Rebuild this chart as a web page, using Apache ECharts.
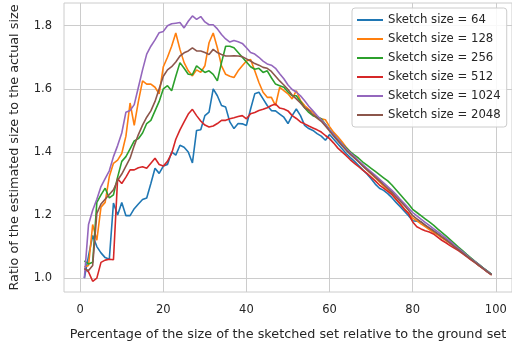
<!DOCTYPE html>
<html>
<head>
<meta charset="utf-8">
<script src="https://cdn.jsdelivr.net/npm/echarts@6/dist/echarts.min.js"></script>
<style>html,body{margin:0;padding:0;background:#fff}#c{width:512px;height:346px}</style>
</head>
<body>
<div id="c"></div>
<script>
const xValues = Array.from({length: 99}, (_, i) => i + 1);
const seriesNames = ["Sketch size = 64", "Sketch size = 128", "Sketch size = 256", "Sketch size = 512", "Sketch size = 1024", "Sketch size = 2048"];
const xTicks = [0, 20, 40, 60, 80, 100];
const yTicks = [1.0, 1.2, 1.4, 1.6, 1.8];

const size64 = [1.00,1.07,1.135,1.10,1.08,1.065,1.06,1.238,1.20,1.24,1.198,1.198,1.22,1.235,1.249,1.254,1.30,1.348,1.332,1.355,
1.36,1.40,1.39,1.421,1.415,1.40,1.365,1.468,1.47,1.515,1.526,1.60,1.578,1.547,1.542,1.495,1.474,1.49,1.489,1.484,
1.536,1.584,1.589,1.568,1.547,1.531,1.53,1.52,1.51,1.49,1.515,1.536,1.515,1.484,1.474,1.468,1.458,1.45,1.437,1.455,
1.44,1.425,1.41,1.395,1.382,1.37,1.357,1.343,1.33,1.315,1.298,1.285,1.278,1.268,1.255,1.24,1.226,1.212,1.198,1.182,
1.18,1.178,1.168,1.158,1.15,1.14,1.13,1.121,1.112,1.102,1.093,1.083,1.073,1.062,1.052,1.042,1.032,1.022,1.012];

const size128 = [1.035,1.04,1.17,1.12,1.225,1.24,1.322,1.364,1.374,1.395,1.45,1.555,1.484,1.56,1.625,1.615,1.615,1.605,1.584,1.67,
1.70,1.735,1.777,1.725,1.683,1.657,1.641,1.66,1.652,1.673,1.746,1.777,1.73,1.673,1.646,1.64,1.636,1.657,1.673,1.688,
1.693,1.657,1.62,1.589,1.573,1.573,1.547,1.605,1.594,1.584,1.568,1.594,1.563,1.547,1.535,1.526,1.51,1.505,1.502,1.48,
1.462,1.448,1.432,1.415,1.40,1.385,1.37,1.356,1.343,1.33,1.318,1.305,1.292,1.28,1.265,1.25,1.235,1.22,1.205,1.19,
1.182,1.172,1.163,1.154,1.145,1.137,1.128,1.119,1.11,1.10,1.09,1.08,1.07,1.06,1.05,1.04,1.03,1.02,1.01];

const size256 = [1.055,1.045,1.05,1.24,1.264,1.285,1.254,1.264,1.32,1.37,1.385,1.41,1.435,1.442,1.46,1.49,1.50,1.53,1.56,1.60,
1.61,1.594,1.64,1.683,1.665,1.646,1.645,1.673,1.662,1.652,1.657,1.646,1.625,1.683,1.735,1.735,1.73,1.715,1.70,1.685,
1.67,1.662,1.665,1.652,1.657,1.635,1.615,1.61,1.605,1.59,1.578,1.578,1.56,1.54,1.525,1.515,1.51,1.505,1.488,1.47,
1.455,1.44,1.425,1.413,1.40,1.39,1.38,1.368,1.358,1.348,1.338,1.328,1.318,1.308,1.295,1.28,1.265,1.25,1.235,1.218,
1.208,1.198,1.188,1.178,1.168,1.156,1.145,1.134,1.122,1.11,1.098,1.087,1.075,1.064,1.053,1.043,1.032,1.022,1.012];

const size512 = [1.03,1.02,0.99,1.0,1.05,1.057,1.06,1.058,1.315,1.30,1.32,1.343,1.343,1.35,1.353,1.348,1.364,1.38,1.36,1.355,
1.37,1.395,1.44,1.47,1.495,1.52,1.535,1.515,1.498,1.485,1.479,1.482,1.49,1.50,1.50,1.505,1.508,1.512,1.515,1.505,
1.521,1.525,1.531,1.535,1.54,1.547,1.552,1.539,1.536,1.53,1.515,1.506,1.495,1.489,1.482,1.476,1.47,1.463,1.452,1.442,
1.428,1.412,1.40,1.388,1.375,1.364,1.353,1.342,1.332,1.32,1.308,1.295,1.285,1.275,1.265,1.25,1.235,1.218,1.205,1.178,
1.163,1.156,1.15,1.146,1.14,1.13,1.12,1.112,1.103,1.095,1.087,1.078,1.068,1.058,1.049,1.039,1.029,1.019,1.01];

const size1024 = [1.0,1.17,1.215,1.25,1.29,1.315,1.34,1.385,1.42,1.46,1.526,1.531,1.55,1.605,1.66,1.71,1.735,1.755,1.778,1.782,
1.80,1.806,1.808,1.81,1.793,1.814,1.831,1.82,1.829,1.812,1.803,1.803,1.79,1.772,1.758,1.748,1.753,1.749,1.744,1.73,
1.715,1.71,1.70,1.688,1.679,1.675,1.665,1.648,1.632,1.612,1.598,1.59,1.578,1.562,1.545,1.53,1.515,1.502,1.487,1.47,
1.455,1.44,1.425,1.41,1.397,1.385,1.372,1.36,1.348,1.337,1.326,1.314,1.302,1.29,1.278,1.265,1.25,1.236,1.222,1.208,
1.197,1.187,1.177,1.167,1.157,1.147,1.137,1.127,1.117,1.105,1.094,1.084,1.073,1.062,1.052,1.042,1.031,1.021,1.011];

const size2048 = [1.03,1.024,1.04,1.205,1.235,1.25,1.265,1.28,1.31,1.33,1.355,1.38,1.42,1.455,1.485,1.51,1.53,1.56,1.60,1.64,
1.66,1.67,1.685,1.704,1.714,1.72,1.73,1.72,1.72,1.715,1.709,1.725,1.715,1.709,1.704,1.704,1.705,1.704,1.702,1.695,
1.688,1.68,1.675,1.668,1.665,1.655,1.64,1.625,1.612,1.598,1.58,1.568,1.555,1.54,1.532,1.518,1.507,1.497,1.482,1.466,
1.45,1.435,1.42,1.405,1.392,1.38,1.368,1.355,1.343,1.332,1.32,1.308,1.296,1.284,1.272,1.258,1.244,1.23,1.215,1.198,
1.188,1.178,1.168,1.159,1.15,1.14,1.131,1.121,1.111,1.10,1.09,1.08,1.07,1.06,1.05,1.04,1.03,1.02,1.01];

const allSeries = [size64, size128, size256, size512, size1024, size2048];
const colors = ['#1f77b4', '#ff7f0e', '#2ca02c', '#d62728', '#9467bd', '#8c564b'];
const font = 'DejaVu Sans';
const textColor = '#262626';

const chart = echarts.init(document.getElementById('c'), null, {renderer: 'canvas'});
chart.setOption({
  animation: false,
  backgroundColor: '#ffffff',
  color: colors,
  grid: {left: 63, top: 3, width: 452, height: 292, show: true, borderColor: '#cccccc', borderWidth: 1, backgroundColor: 'transparent'},
  legend: {
    orient: 'vertical', left: 352, top: 8,
    itemWidth: 26, itemHeight: 14, itemGap: 5,
    padding: [5, 6, 5, 4],
    itemStyle: {opacity: 0},
    backgroundColor: 'rgba(255,255,255,0.85)', borderColor: '#cccccc', borderWidth: 1, borderRadius: 3,
    textStyle: {fontFamily: font, fontSize: 11.7, color: textColor, lineHeight: 14},
    data: seriesNames
  },
  xAxis: {
    type: 'value', min: -3.9, max: 103.9,
    name: 'Percentage of the size of the sketched set relative to the ground set',
    nameLocation: 'middle', nameGap: 36,
    nameTextStyle: {fontFamily: font, fontSize: 12.8, color: textColor},
    axisLine: {show: false},
    axisTick: {show: false, customValues: xTicks},
    axisLabel: {customValues: xTicks, fontFamily: font, fontSize: 11.5, color: textColor, margin: 12},
    splitLine: {show: true, lineStyle: {color: '#cccccc', width: 1}}
  },
  yAxis: {
    type: 'value', min: 0.956, max: 1.872,
    name: 'Ratio of the estimated size to the actual size',
    nameLocation: 'middle', nameGap: 43, nameRotate: 90,
    nameTextStyle: {fontFamily: font, fontSize: 12.8, color: textColor},
    axisLine: {show: false},
    axisTick: {show: false, customValues: yTicks},
    axisLabel: {customValues: yTicks, fontFamily: font, fontSize: 11.5, color: textColor, margin: 12,
      formatter: v => v.toFixed(1)},
    splitLine: {show: true, lineStyle: {color: '#cccccc', width: 1}}
  },
  series: allSeries.map((vals, i) => ({
    name: seriesNames[i], type: 'line', symbol: 'none', showSymbol: false,
    lineStyle: {width: 1.6, color: colors[i]},
    itemStyle: {color: colors[i]},
    data: xValues.map((x, j) => [x, vals[j]])
  }))
});
</script>
</body>
</html>
